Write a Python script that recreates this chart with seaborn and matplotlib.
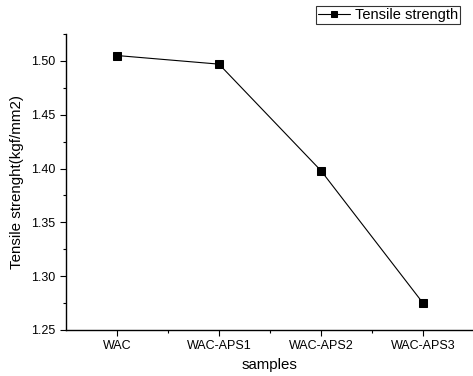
import numpy as np
import pandas as pd
import matplotlib
matplotlib.use("Agg")
import matplotlib.pyplot as plt
import seaborn as sns
from matplotlib.ticker import MultipleLocator, FixedLocator

samples = ["WAC", "WAC-APS1", "WAC-APS2", "WAC-APS3"]
tensile = [1.505, 1.497, 1.398, 1.275]

df = pd.DataFrame({"samples": samples, "tensile": tensile})
df["pos"] = range(len(samples))

sns.set_style("ticks")
plt.rcParams["font.family"] = ["Liberation Sans", "DejaVu Sans"]
plt.rcParams.update({"text.color": "black", "axes.labelcolor": "black",
                     "xtick.color": "black", "ytick.color": "black"})

fig = plt.figure(figsize=(4.73, 3.76), dpi=100)
ax = fig.add_axes([66 / 473, 1 - 330 / 376, 408 / 473, 296 / 376])

sns.lineplot(data=df, x="pos", y="tensile", ax=ax, color="black", lw=0.8,
             marker="s", markersize=6, markeredgecolor="black",
             label="Tensile strength")

ax.set_xlim(-0.5, 3.5)
ax.set_ylim(1.25, 1.525)
ax.set_xticks(range(len(samples)))
ax.set_xticklabels(samples)
ax.xaxis.set_minor_locator(FixedLocator([0.5, 1.5, 2.5]))
ax.yaxis.set_major_locator(MultipleLocator(0.05))
ax.yaxis.set_minor_locator(MultipleLocator(0.025))
ax.yaxis.set_major_formatter(matplotlib.ticker.FormatStrFormatter("%.2f"))
ax.tick_params(which="major", length=4, width=0.8, labelsize=9, color="black")
ax.tick_params(which="minor", length=2.5, width=0.8, color="black")
sns.despine(ax=ax)
for s in ["left", "bottom"]:
    ax.spines[s].set_linewidth(1.0)
    ax.spines[s].set_color("black")

ax.set_xlabel("samples", fontsize=10.8)
ax.set_ylabel("Tensile strenght(kgf/mm2)", fontsize=10.9, labelpad=5)

leg = ax.legend(loc="upper right", bbox_to_anchor=(460 / 473, 1 - 6 / 376),
                bbox_transform=fig.transFigure, fontsize=10.5, frameon=True,
                fancybox=False, borderpad=0.15, handlelength=2.2,
                handletextpad=0.3, borderaxespad=0, markerscale=0.8)
leg.get_frame().set_edgecolor("black")
leg.get_frame().set_linewidth(0.8)

fig.savefig("out.png", dpi=100)
